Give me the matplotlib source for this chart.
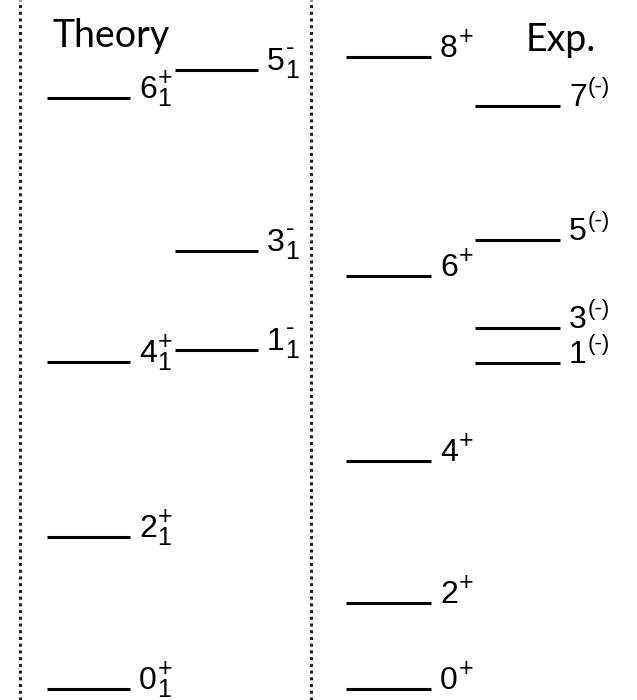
import matplotlib
matplotlib.use("Agg")
import matplotlib.pyplot as plt

plt.rcParams['font.family'] = ['Liberation Sans', 'DejaVu Sans']

# level energies (arbitrary units, ground state = 0)
th_pos_spin = ['0', '2', '4', '6']
th_pos_e = [0.0, 1.52, 3.27, 5.91]
th_neg_spin = ['1', '3', '5']
th_neg_e = [3.39, 4.38, 6.19]

exp_pos_spin = ['0', '2', '4', '6', '8']
exp_pos_e = [0.0, 0.86, 2.28, 4.13, 6.32]
exp_neg_spin = ['1', '3', '5', '7']
exp_neg_e = [3.26, 3.61, 4.49, 5.83]

fig = plt.figure(figsize=(6.37, 7.0), dpi=100)
ax = fig.add_axes([0, 0, 1, 1])
ax.set_xlim(0, 637)
ax.set_ylim(-0.11, 6.89)
ax.axis('off')

lw = 2.2
fs = 23      # spin digit
fs_s = 18    # parity / index


def column(x0, x1, energies, spins, sup, sup_dy, sub=None, sup_fs=fs_s):
    for e, s in zip(energies, spins):
        ax.plot([x0, x1], [e, e], color='black', lw=lw, solid_capstyle='butt')
        xt = x1 + 9
        ax.text(xt, e, s, fontsize=fs, va='baseline', ha='left')
        dx = 0.556 * fs * len(s) + 0.5
        ax.annotate(sup, (xt, e), xytext=(dx, sup_dy), textcoords='offset points',
                    fontsize=sup_fs, va='baseline', ha='left')
        if sub:
            ax.annotate(sub, (xt, e), xytext=(dx, -5.5), textcoords='offset points',
                        fontsize=fs_s, va='baseline', ha='left')


column(47, 130, th_pos_e, th_pos_spin, '+', 9.5, sub='1')
column(175, 258, th_neg_e, th_neg_spin, '-', 11, sub='1')
column(346, 431, exp_pos_e, exp_pos_spin, '+', 9.5)
column(475, 560, exp_neg_e, exp_neg_spin, '(-)', 9.5, sup_fs=16)

# dotted separators
for xv in (20, 311):
    ax.plot([xv, xv], [-0.11, 6.89], color='#222222', lw=2.2, linestyle=(0, (1, 1.2)))

ax.text(111, 6.53, 'Theory', fontsize=27, family='Lato', ha='center', va='center')
ax.text(561, 6.49, 'Exp.', fontsize=27, family='Lato', ha='center', va='center')

fig.savefig('out.png', dpi=100)
